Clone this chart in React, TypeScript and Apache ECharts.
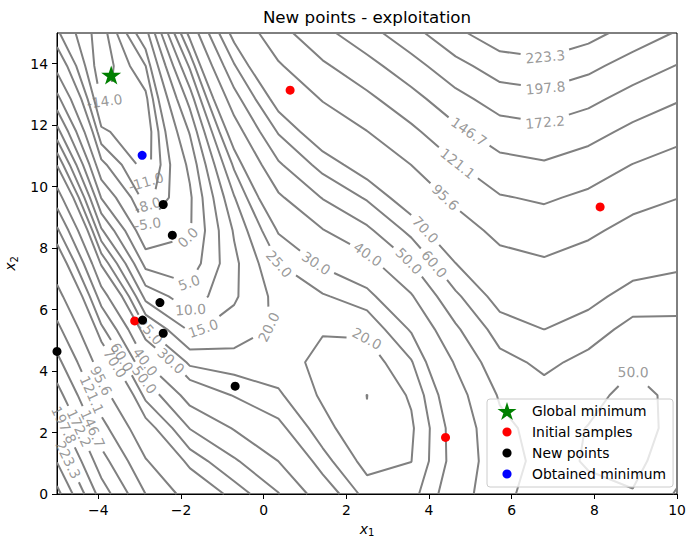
import React, { useEffect, useRef } from "react";
import * as echarts from "echarts";

type P = [number, number];

// ---- data: 15x15 grid of the objective (rows = y index, columns = x index)
const X_GRID = [-5, -3.9286, -2.8571, -1.7857, -0.7143, 0.3571, 1.4286, 2.5, 3.5714, 4.6429, 5.7143, 6.7857, 7.8571, 8.9286, 10];
const Y_GRID = [0, 1.0714, 2.1429, 3.2143, 4.2857, 5.3571, 6.4286, 7.5, 8.5714, 9.6429, 10.7143, 11.7857, 12.8571, 13.9286, 15];
const Z_ROWS: number[][] = [
  [283.13, 186.54, 121.10, 84.66, 65.56, 50.46, 34.42, 22.81, 22.98, 34.49, 47.92, 53.66, 51.42, 50.56, 60.96],
  [247.45, 157.16, 97.39, 65.98, 51.28, 39.94, 27.02, 17.89, 19.92, 32.65, 46.66, 52.35, 49.41, 47.23, 55.67],
  [214.06, 130.07, 75.97, 49.59, 39.29, 31.71, 21.92, 15.28, 19.16, 33.11, 47.70, 53.33, 49.71, 46.20, 52.68],
  [182.97, 105.28, 56.85, 35.50, 29.59, 25.77, 19.11, 14.96, 20.69, 35.86, 51.03, 56.61, 52.30, 47.47, 51.99],
  [154.18, 82.79, 40.02, 23.71, 22.19, 22.13, 18.59, 16.93, 24.52, 40.90, 56.66, 62.18, 57.18, 51.03, 53.59],
  [127.68, 62.60, 25.49, 14.21, 17.09, 20.79, 20.37, 21.20, 30.64, 48.24, 64.58, 70.06, 64.36, 56.88, 57.49],
  [103.48, 44.70, 13.26, 7.01, 14.28, 21.74, 24.45, 27.77, 39.06, 57.88, 74.80, 80.22, 73.84, 65.04, 63.68],
  [81.57, 29.09, 3.32, 2.10, 13.77, 24.99, 30.82, 36.63, 49.78, 69.81, 87.32, 92.68, 85.61, 75.49, 72.17],
  [61.96, 15.78, -4.32, -0.51, 15.56, 30.54, 39.49, 47.79, 62.79, 84.04, 102.13, 107.44, 99.68, 88.23, 82.95],
  [44.64, 4.77, -9.66, -0.83, 19.64, 38.38, 50.46, 61.24, 78.10, 100.57, 119.24, 124.50, 116.05, 103.27, 96.03],
  [29.62, -3.95, -12.71, 1.16, 26.01, 48.52, 63.72, 76.99, 95.70, 119.39, 138.64, 143.85, 134.71, 120.61, 111.41],
  [16.90, -10.37, -13.47, 5.43, 34.69, 60.95, 79.28, 95.04, 115.60, 140.51, 160.34, 165.49, 155.67, 140.24, 129.08],
  [6.47, -14.49, -11.93, 12.01, 45.66, 75.68, 97.13, 115.38, 137.80, 163.92, 184.33, 189.43, 178.92, 162.17, 149.05],
  [-1.66, -16.32, -8.09, 20.88, 58.92, 92.70, 117.28, 138.02, 162.29, 189.63, 210.63, 215.67, 204.47, 186.39, 171.31],
  [-7.49, -15.85, -1.95, 32.04, 74.48, 112.02, 139.72, 162.95, 189.07, 217.63, 239.21, 244.20, 232.31, 212.91, 195.87],
];
const LEVELS = [-14, -11, -8, -5, 0, 5, 10, 15, 20, 25, 30, 40, 50, 60, 70, 95.556, 121.111, 146.667, 172.222, 197.778, 223.333, 248.889, 274.444];

const GLOBAL_MIN: P[] = [[-3.689, 13.63]];
const INITIAL_SAMPLES: P[] = [[0.64, 13.14], [8.14, 9.34], [-3.12, 5.63], [4.4, 1.84]];
const NEW_POINTS: P[] = [[-5.0, 4.64], [-2.43, 9.42], [-2.21, 8.42], [-2.51, 6.23], [-2.93, 5.66], [-2.43, 5.23], [-0.69, 3.51]];
const OBTAINED_MIN: P[] = [[-2.94, 11.02]];

const X_TICKS = [-4, -2, 0, 2, 4, 6, 8, 10];
const Y_TICKS = [0, 2, 4, 6, 8, 10, 12, 14];

// ---- layout (label anchors are approximate; each snaps onto its contour)
const LABEL_ANCHORS: [number, number, number][] = [
  [223.333, 6.81, 14.24], [197.778, 6.81, 13.24], [172.222, 6.81, 12.1], [146.667, 4.99, 11.84],
  [121.111, 4.75, 10.86], [95.556, 4.44, 9.72], [70, 3.93, 8.62], [60, 4.15, 7.51], [50, 3.57, 7.67],
  [40, 2.52, 7.8], [30, 1.29, 7.54], [25, 0.4, 7.54], [20, 0.08, 5.43], [20, 2.5, 5.07], [50, 8.94, 3.97],
  [15, -1.49, 5.43], [10, -1.78, 6.02], [5, -1.81, 6.86], [0, -1.83, 8.33], [-5, -2.75, 8.72],
  [-8, -2.75, 9.33], [-11, -2.82, 10.15], [-14, -3.84, 12.75], [25, -2.75, 5.3], [30, -2.19, 4.42],
  [40, -2.82, 4.33], [50, -2.85, 3.74], [60, -3.38, 4.49], [70, -3.55, 4.29], [95.556, -3.89, 3.71],
  [121.111, -4.13, 3.25], [146.667, -4.03, 2.18], [172.222, -4.4, 2.18], [197.778, -4.78, 2.28],
  [223.333, -4.69, 1.14],
];

const W = 696, H = 548;
const GRID = { left: 57, right: 19, top: 33, bottom: 54 };
const PW = W - GRID.left - GRID.right;
const PH = H - GRID.top - GRID.bottom;
const FONT = "DejaVu Sans";
const FS = 13.9;
const GRAY = "#808080";

const X_MIN = X_GRID[0], X_MAX = X_GRID[X_GRID.length - 1];
const Y_MIN = Y_GRID[0], Y_MAX = Y_GRID[Y_GRID.length - 1];
const toPx = (p: P): P => [
  GRID.left + ((p[0] - X_MIN) / (X_MAX - X_MIN)) * PW,
  GRID.top + ((Y_MAX - p[1]) / (Y_MAX - Y_MIN)) * PH,
];

function contour(level: number): P[][] {
  const nx = X_GRID.length, ny = Y_GRID.length;
  const pos: Record<string, P> = {};
  const segs: [string, string][] = [];
  const eH = (i: number, j: number) => {
    const k = `h${i}_${j}`;
    if (!pos[k]) {
      const a = Z_ROWS[j][i], b = Z_ROWS[j][i + 1];
      const t = (level - a) / (b - a);
      pos[k] = [X_GRID[i] + t * (X_GRID[i + 1] - X_GRID[i]), Y_GRID[j]];
    }
    return k;
  };
  const eV = (i: number, j: number) => {
    const k = `v${i}_${j}`;
    if (!pos[k]) {
      const a = Z_ROWS[j][i], b = Z_ROWS[j + 1][i];
      const t = (level - a) / (b - a);
      pos[k] = [X_GRID[i], Y_GRID[j] + t * (Y_GRID[j + 1] - Y_GRID[j])];
    }
    return k;
  };
  for (let j = 0; j < ny - 1; j++) {
    for (let i = 0; i < nx - 1; i++) {
      const a = Z_ROWS[j][i], b = Z_ROWS[j][i + 1], c = Z_ROWS[j + 1][i + 1], d = Z_ROWS[j + 1][i];
      const A = a > level, B = b > level, C = c > level, D = d > level;
      const bottom = A !== B ? eH(i, j) : null;
      const right = B !== C ? eV(i + 1, j) : null;
      const top = C !== D ? eH(i, j + 1) : null;
      const left = D !== A ? eV(i, j) : null;
      const list = [bottom, right, top, left].filter((e) => e !== null) as string[];
      if (list.length === 2) segs.push([list[0], list[1]]);
      else if (list.length === 4) {
        const center = (a + b + c + d) / 4 > level;
        if (A === center) {
          segs.push([bottom!, right!]);
          segs.push([top!, left!]);
        } else {
          segs.push([left!, bottom!]);
          segs.push([right!, top!]);
        }
      }
    }
  }
  const adj: Record<string, number[]> = {};
  segs.forEach((s, k) => {
    (adj[s[0]] = adj[s[0]] || []).push(k);
    (adj[s[1]] = adj[s[1]] || []).push(k);
  });
  const used = segs.map(() => false);
  const out: P[][] = [];
  const extend = (arr: string[]) => {
    for (;;) {
      const last = arr[arr.length - 1];
      const nxt = (adj[last] || []).find((m) => !used[m]);
      if (nxt === undefined) break;
      used[nxt] = true;
      const s = segs[nxt];
      arr.push(s[0] === last ? s[1] : s[0]);
    }
  };
  segs.forEach((s, k) => {
    if (used[k]) return;
    used[k] = true;
    const chain = [s[0], s[1]];
    extend(chain);
    chain.reverse();
    extend(chain);
    out.push(chain.map((key) => pos[key]));
  });
  return out;
}

function cumLen(line: P[]): number[] {
  const px = line.map(toPx);
  const cum = [0];
  for (let k = 1; k < px.length; k++) {
    cum.push(cum[k - 1] + Math.hypot(px[k][0] - px[k - 1][0], px[k][1] - px[k - 1][1]));
  }
  return cum;
}
function pointAt(line: P[], cum: number[], s: number): P {
  const n = line.length;
  if (s <= 0) return line[0];
  if (s >= cum[n - 1]) return line[n - 1];
  let k = 1;
  while (cum[k] < s) k++;
  const t = (s - cum[k - 1]) / (cum[k] - cum[k - 1] || 1);
  return [line[k - 1][0] + t * (line[k][0] - line[k - 1][0]), line[k - 1][1] + t * (line[k][1] - line[k - 1][1])];
}
function sub(line: P[], cum: number[], sa: number, sb: number): P[] {
  const out: P[] = [pointAt(line, cum, sa)];
  for (let k = 0; k < line.length; k++) if (cum[k] > sa && cum[k] < sb) out.push(line[k]);
  out.push(pointAt(line, cum, sb));
  return out;
}
const CHAR_W: Record<string, number> = { ".": 0.318, "-": 0.361 };
const textWidth = (s: string) => {
  let w = 0;
  for (const ch of s) w += CHAR_W[ch] ?? 0.636;
  return w * FS;
};

function buildContours() {
  const lineSeries: any[] = [];
  const labelData: any[] = [];
  LEVELS.forEach((level) => {
    let lines = contour(level);
    LABEL_ANCHORS.filter((a) => Math.abs(a[0] - level) < 0.01).forEach((anchor) => {
      const ap = toPx([anchor[1], anchor[2]]);
      let best: { li: number; s: number; d: number } | null = null;
      lines.forEach((line, li) => {
        const px = line.map(toPx);
        const cum = cumLen(line);
        for (let k = 1; k < px.length; k++) {
          const [x1, y1] = px[k - 1], [x2, y2] = px[k];
          const dx = x2 - x1, dy = y2 - y1;
          const L2 = dx * dx + dy * dy || 1;
          let t = ((ap[0] - x1) * dx + (ap[1] - y1) * dy) / L2;
          t = Math.max(0, Math.min(1, t));
          const d = Math.hypot(x1 + t * dx - ap[0], y1 + t * dy - ap[1]);
          if (!best || d < best.d) best = { li, s: cum[k - 1] + t * (cum[k] - cum[k - 1]), d };
        }
      });
      if (!best) return;
      const b = best as { li: number; s: number; d: number };
      const line = lines[b.li];
      const n = line.length;
      const closed = n > 2 && Math.abs(line[0][0] - line[n - 1][0]) < 1e-9 && Math.abs(line[0][1] - line[n - 1][1]) < 1e-9;
      const txt = level.toFixed(1);
      const hw = textWidth(txt) / 2 + 5;
      let work = line;
      let cum = cumLen(line);
      const total = cum[n - 1];
      let s0 = b.s;
      if (closed) {
        work = line.concat(line.slice(1));
        cum = cumLen(work);
        if (s0 < hw) s0 += total;
      }
      const pA = toPx(pointAt(work, cum, s0 - hw));
      const pB = toPx(pointAt(work, cum, s0 + hw));
      let ang = (Math.atan2(-(pB[1] - pA[1]), pB[0] - pA[0]) * 180) / Math.PI;
      if (ang > 90) ang -= 180;
      if (ang <= -90) ang += 180;
      const center = pointAt(work, cum, s0);
      const pieces: P[][] = [];
      if (closed) {
        if (total > 2 * hw) pieces.push(sub(work, cum, s0 + hw, s0 - hw + total));
      } else {
        if (s0 - hw > 0) pieces.push(sub(work, cum, 0, s0 - hw));
        if (s0 + hw < total) pieces.push(sub(work, cum, s0 + hw, total));
      }
      lines = lines.slice(0, b.li).concat(pieces.filter((p) => p.length >= 2), lines.slice(b.li + 1));
      labelData.push({ name: txt, value: center, label: { rotate: ang } });
    });
    lines.forEach((line) => {
      lineSeries.push({
        type: "line",
        data: line,
        showSymbol: false,
        symbol: "none",
        silent: true,
        z: 1,
        lineStyle: { color: GRAY, width: 2 },
      });
    });
  });
  return { lineSeries, labelData };
}

const STAR =
  "path://M10 0L12.245 6.91L19.511 6.91L13.633 11.18L15.878 18.09L10 13.82L4.122 18.09L6.367 11.18L0.489 6.91L7.755 6.91Z";
// legend icons padded to a full 40x20 box so the marker sits in its centre
const STAR_ICON =
  "path://M0 0M40 20M20 1L22.245 7.91L29.511 7.91L23.633 12.18L25.878 19.09L20 14.82L14.122 19.09L16.367 12.18L10.489 7.91L17.755 7.91Z";
const CIRCLE_ICON = "path://M0 0M40 20M24.6 10A4.6 4.6 0 1 1 15.4 10A4.6 4.6 0 1 1 24.6 10Z";

const fmtTick = (v: number) => (v < 0 ? "\u2212" + Math.abs(v) : String(v));

function buildOption(): any {
  const { lineSeries, labelData } = buildContours();
  const axisName = (sub: string) => ({
    name: `{i|x}{s|${sub}}`,
    nameLocation: "middle",
    nameTextStyle: {
      rich: {
        i: { fontFamily: FONT, fontStyle: "italic", fontSize: 14, color: "#000", lineHeight: 16, verticalAlign: "top" },
        s: { fontFamily: FONT, fontSize: 10, color: "#000", lineHeight: 12, padding: [6, 0, 0, 0], verticalAlign: "top" },
      },
    },
  });
  return {
    animation: false,
    backgroundColor: "#ffffff",
    title: {
      text: "New points - exploitation",
      left: GRID.left + PW / 2,
      top: 8,
      textAlign: "center",
      padding: 0,
      textStyle: { fontFamily: FONT, fontSize: 16.7, fontWeight: "normal", color: "#000" },
    },
    grid: { ...GRID, show: true, borderColor: "#000", borderWidth: 1, containLabel: false, outerBoundsMode: "none" },
    xAxis: {
      type: "value",
      min: X_MIN,
      max: X_MAX,
      ...axisName("1"),
      nameGap: 24,
      splitLine: { show: false },
      axisLine: { show: true, onZero: false, lineStyle: { color: "#000", width: 1 } },
      axisTick: { show: true, length: 5, lineStyle: { color: "#000", width: 1 }, customValues: X_TICKS },
      axisLabel: { customValues: X_TICKS, formatter: fmtTick, color: "#000", fontFamily: FONT, fontSize: FS, margin: 9 },
    },
    yAxis: {
      type: "value",
      min: Y_MIN,
      max: Y_MAX,
      ...axisName("2"),
      nameGap: 31,
      splitLine: { show: false },
      axisLine: { show: true, onZero: false, lineStyle: { color: "#000", width: 1 } },
      axisTick: { show: true, length: 5, lineStyle: { color: "#000", width: 1 }, customValues: Y_TICKS },
      axisLabel: { customValues: Y_TICKS, formatter: fmtTick, color: "#000", fontFamily: FONT, fontSize: FS, margin: 9 },
    },
    legend: {
      orient: "vertical",
      left: 487,
      top: 399,
      padding: [2, 7, 3, 0],
      itemWidth: 40,
      itemHeight: 20,
      itemGap: 1,
      selectedMode: false,
      backgroundColor: "rgba(255,255,255,0.8)",
      borderColor: "#cccccc",
      borderWidth: 1,
      borderRadius: 3,
      textStyle: { fontFamily: FONT, fontSize: FS, color: "#000" },
      data: [
        { name: "Global minimum", icon: STAR_ICON },
        { name: "Initial samples", icon: CIRCLE_ICON },
        { name: "New points", icon: CIRCLE_ICON },
        { name: "Obtained minimum", icon: CIRCLE_ICON },
      ],
    },
    series: [
      ...lineSeries,
      {
        type: "scatter",
        name: "contour labels",
        data: labelData,
        symbolSize: 1,
        silent: true,
        z: 2,
        itemStyle: { color: "rgba(0,0,0,0)" },
        label: { show: true, position: "inside", formatter: "{b}", color: GRAY, fontFamily: FONT, fontSize: FS },
      },
      {
        type: "scatter",
        name: "Global minimum",
        data: GLOBAL_MIN,
        symbol: STAR,
        symbolSize: 20,
        symbolKeepAspect: true,
        z: 3,
        itemStyle: { color: "#008000", opacity: 1 },
      },
      {
        type: "scatter",
        name: "Initial samples",
        data: INITIAL_SAMPLES,
        symbol: "circle",
        symbolSize: 9,
        z: 4,
        itemStyle: { color: "#ff0000", opacity: 1 },
      },
      {
        type: "scatter",
        name: "New points",
        data: NEW_POINTS,
        symbol: "circle",
        symbolSize: 9,
        z: 5,
        itemStyle: { color: "#000000", opacity: 1 },
      },
      {
        type: "scatter",
        name: "Obtained minimum",
        data: OBTAINED_MIN,
        symbol: "circle",
        symbolSize: 9,
        z: 6,
        itemStyle: { color: "#0000ff", opacity: 1 },
      },
    ],
  };
}

export default function App() {
  const ref = useRef<HTMLDivElement>(null);
  useEffect(() => {
    if (!ref.current) return;
    const chart = echarts.init(ref.current, null, { renderer: "svg" });
    chart.setOption(buildOption());
    return () => chart.dispose();
  }, []);
  return (
    <div
      ref={ref}
      style={{ position: "fixed", left: 0, top: 0, width: W, height: H, background: "#fff" }}
    />
  );
}
